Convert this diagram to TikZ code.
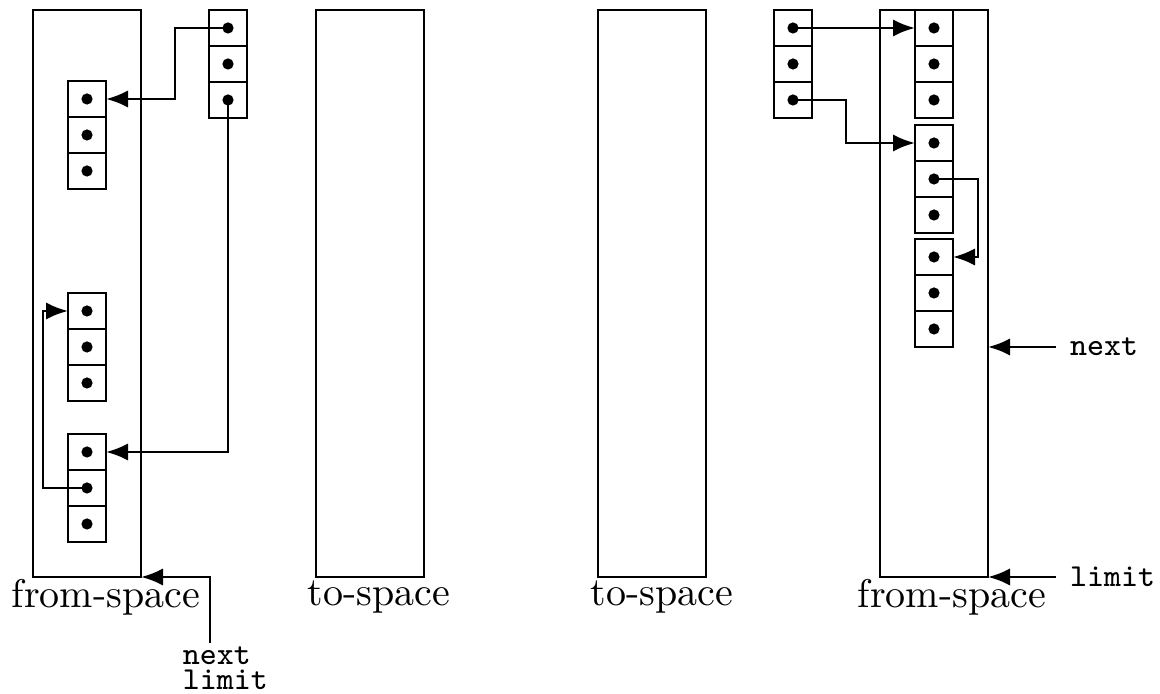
\documentclass[tikz,border=0pt]{standalone}
\usetikzlibrary{arrows.meta}

\tikzset{
  cell/.style={draw, line width=0.65pt, minimum width=9.5pt, minimum height=9pt, inner sep=0pt, outer sep=0pt},
  space/.style={draw, line width=0.65pt, minimum width=27pt, minimum height=141.75pt, inner sep=0pt, outer sep=0pt},
  ptr/.style={line width=0.65pt, -{Latex[length=5.5pt,width=4.3pt]}},
  lbl/.style={inner sep=1pt},
  reg/.style={font=\footnotesize\ttfamily}
}

% three stacked cells with a dot each: name, x, y of the top cell
\newcommand{\cellblock}[3]{%
  \foreach \i in {1,2,3} {
    \node[cell] (#1\i) at (#2,{#3+36*(\i-1)}) {};
    \fill (#1\i) circle (1.4pt);
  }%
}

\begin{document}
\begin{tikzpicture}[x=0.25pt, y=-0.25pt]
    \useasboundingbox (0,0) rectangle (1160,694);

    % The four semispaces
    \node[space] (fromL) at (87,293.5) {};
    \node[space] (toL) at (370,293.5) {};
    \node[space] (toR) at (652,293.5) {};
    \node[space] (fromR) at (934,293.5) {};

    \node[lbl] at (106,597) {from-space};
    \node[lbl] at (379,597) {to-space};
    \node[lbl] at (662,597) {to-space};
    \node[lbl] at (952,597) {from-space};

    % Before: roots and objects in from-space
    \cellblock{LR}{228}{28}
    \cellblock{A}{87}{99}
    \cellblock{B}{87}{311}
    \cellblock{C}{87}{452}

    \draw[ptr] (LR1.center) -- ++(-53,0) |- (A1.east);
    \draw[ptr] (LR3.center) |- (C1.east);
    \draw[ptr] (C2.center) -- ++(-44,0) |- (B1.west);

    \node[reg, inner sep=0pt, align=left, anchor=north west] (nlL) at (182,646) {next\\[-3.25pt]limit};
    \draw[ptr] (nlL.north west) ++(28,-3) |- (fromL.south east);

    % After: copied objects packed from the bottom of the old to-space
    \cellblock{RR}{793}{28}
    \cellblock{P}{934}{28}
    \cellblock{Q}{934}{143}
    \cellblock{S}{934}{257}

    \draw[ptr] (RR1.center) -- (P1.west);
    \draw[ptr] (RR3.center) -- ++(53,0) |- (Q1.west);
    \draw[ptr] (Q2.center) -- ++(44,0) |- (S1.east);

    \node[reg, anchor=west] (nextR) at (1056,347) {next};
    \node[reg, anchor=west] (limitR) at (1056,577) {limit};
    \draw[ptr] (nextR.west) -- (nextR.west -| fromR.east);
    \draw[ptr] (limitR.west) -- (limitR.west -| fromR.east);
\end{tikzpicture}
\end{document}
